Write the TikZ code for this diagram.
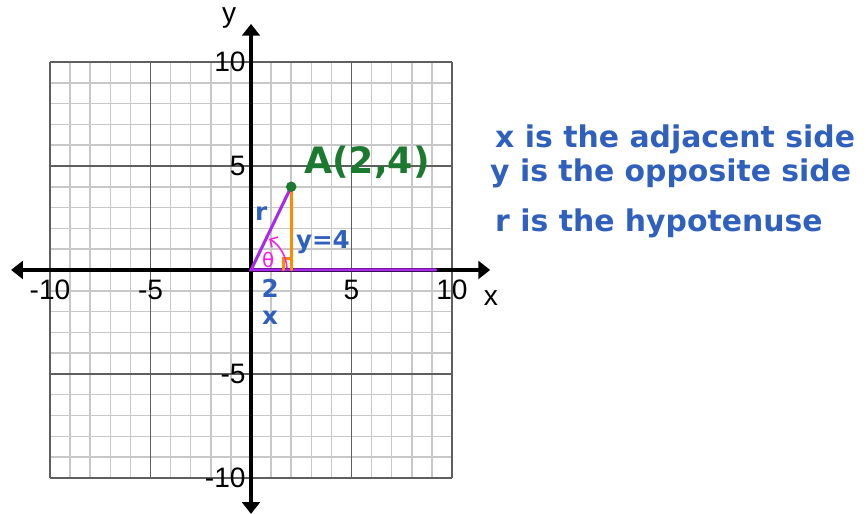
\documentclass[tikz,border=0pt]{standalone}
\usepackage{fontspec}
\setmainfont{Liberation Sans}
\newfontfamily\handfont{DejaVu Sans}
\usetikzlibrary{arrows.meta}
\definecolor{gridgray}{RGB}{200,200,200}
\definecolor{majorgray}{RGB}{95,95,95}
\definecolor{inkblue}{RGB}{48,96,190}
\definecolor{inkgreen}{RGB}{28,122,48}
\definecolor{inkorange}{RGB}{255,140,0}
\definecolor{inkpurple}{RGB}{170,40,235}
\definecolor{inkpink}{RGB}{250,30,230}
\tikzset{
  minorline/.style={gridgray,line width=1.3pt},
  majorline/.style={majorgray,line width=1.3pt},
  axis/.style={black,line width=3pt,{Triangle[width=15pt,length=10pt]}-{Triangle[width=15pt,length=10pt]}},
  ticklab/.style={font=\fontsize{24}{28}\selectfont,inner sep=1pt},
  ink/.style={text=inkblue,font=\handfont\bfseries\fontsize{21}{24}\selectfont,inner sep=0pt},
  note/.style={ink,font=\handfont\bfseries\fontsize{25.5}{29}\selectfont,anchor=base west},
  side/.style={line width=2.6pt,line cap=round},
  dot/.style={circle,fill=inkgreen,minimum size=9pt,inner sep=0pt},
}
\begin{document}
\begin{tikzpicture}[x=0.603cm,y=0.624cm]
  \path[use as bounding box] (-12.49,-11.73) rectangle (30.65,12.98);

  % grid
  \foreach \i in {-10,...,10}{
    \draw[minorline] (\i,-10) -- (\i,10);
    \draw[minorline] (-10,\i) -- (10,\i);
  }
  \foreach \i in {-10,-5,5,10}{
    \draw[majorline] (\i,-10) -- (\i,10);
    \draw[majorline] (-10,\i) -- (10,\i);
  }

  % axes
  \coordinate (xl) at (-11.94,0);
  \coordinate (xr) at (11.9,0);
  \coordinate (yb) at (0,-11.73);
  \coordinate (yt) at (0,11.83);
  \draw[axis] (xl) -- (xr);
  \draw[axis] (yb) -- (yt);
  \foreach \v [count=\k] in {-10,-5,5,10}{
    \node[ticklab] (xtick\k) at (\v,-0.95) {\v};
    \node[ticklab,anchor=east] (ytick\k) at (-0.2,\v) {\v};
  }
  \node[ticklab] (xname) at (11.94,-1.35) {x};
  \node[ticklab] (yname) at (-1.09,12.1) {y};

  % triangle
  \coordinate (O) at (0,0);
  \coordinate (A) at (2,4);
  \coordinate (B) at (2,0);
  \coordinate (E) at (9.2,0);
  \draw[side,inkpurple] (E) -- (O) -- (A);
  \draw[side,inkorange] (A) -- (B);
  \draw[side,inkorange] (1.6,0) |- (2,0.55);
  \draw[inkpink,line width=1.3pt,-{Straight Barb[length=5pt]}]
    (O) ++(3:1.08cm) arc[start angle=3,end angle=60,radius=1.08cm];
  \node[text=inkpink,font=\handfont\fontsize{17}{19}\selectfont,inner sep=0pt] (theta) at (0.85,0.5) {θ};
  \node[dot] (Adot) at (A) {};

  % labels
  \node[ink,text=inkgreen,font=\handfont\bfseries\fontsize{31}{36}\selectfont] (Alab) at (5.77,5.19) {A(2,4)};
  \node[ink] (rlab) at (0.5,2.7) {r};
  \node[ink] (ylab) at (3.58,1.35) {y=4};
  \node[ink] (twolab) at (0.95,-0.9) {2};
  \node[ink] (xlab) at (0.95,-2.3) {x};

  % notes
  \node[note] (note1) at (12.14,5.91) {x is the adjacent side};
  \node[note] (note2) at (11.89,4.23) {y is the opposite side};
  \node[note] (note3) at (12.14,1.83) {r is the hypotenuse};
\end{tikzpicture}
\end{document}
